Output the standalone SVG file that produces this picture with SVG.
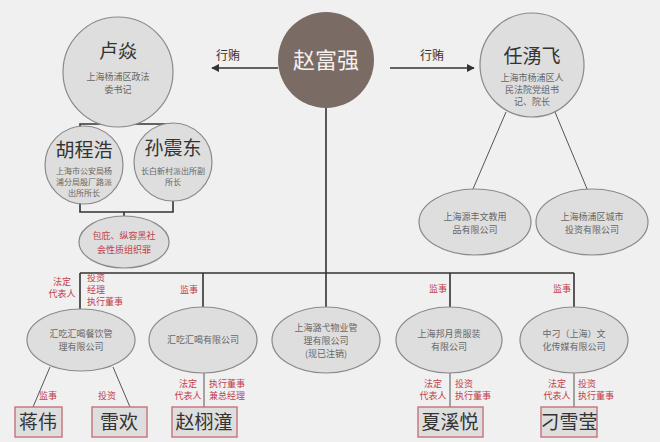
<svg xmlns="http://www.w3.org/2000/svg" width="660" height="442" viewBox="0 0 660 442">
<defs>
<style>
text{font-family:"Noto Sans CJK SC","Liberation Serif",serif;text-anchor:middle}
.c{fill:#dedede;stroke:#8a8a8a;stroke-width:1.2}
.t{font-size:19px;fill:#333}
.s{font-size:9px;fill:#666}
.x{font-size:8px;fill:#666}
.r{font-size:9px;fill:#c0404a}
.rs{font-size:9px;fill:#c0404a;text-anchor:start}
.b{fill:#dedede;stroke:#c77a80;stroke-width:1.5}
.l{stroke:#333;stroke-width:1.6;fill:none}
.ln{stroke:#555;stroke-width:1;fill:none}
</style>
<marker id="a" viewBox="0 0 10 10" refX="9" refY="5" markerWidth="5" markerHeight="5" orient="auto"><path d="M0,0L10,5L0,10z" fill="#333"/></marker>
</defs>
<rect width="660" height="442" fill="#f0f0f0"/>
<g id="connectors">
<path class="l" d="M278,68H212" marker-end="url(#a)"/>
<path class="l" d="M390,68H474" marker-end="url(#a)"/>
<path class="l" d="M124,127V124M80,134V124H173V134M80,201V212H173V201M124,212V218"/>
<path class="l" d="M326,108V273M80,273H574M80,273V310M203,273V307M326,273V307M450,273V307M574,273V307"/>
<path class="ln" d="M506,112L470,196M555,112L590,196"/>
<path class="ln" d="M50,367L33,407M113,367L130,407M204,373V407M450,373V407M574,373V407"/>
</g>
<g id="n-zhao"><circle cx="326" cy="60" r="48" fill="#7a6b64"/><text x="326" y="68" font-size="22" fill="#f4f0ee">赵富强</text></g>
<text x="228" y="60" font-size="12" fill="#333">行贿</text>
<text x="432" y="60" font-size="12" fill="#333">行贿</text>
<g id="n-lu"><circle class="c" cx="118" cy="72" r="55"/><text class="t" x="118" y="58">卢焱</text><text class="s" x="118" y="80">上海杨浦区政法</text><text class="s" x="118" y="93">委书记</text></g>
<g id="n-ren"><circle class="c" cx="532" cy="65" r="52"/><text class="t" x="532" y="63">任湧飞</text><text class="s" x="532" y="81">上海市杨浦区人</text><text class="s" x="532" y="93">民法院党组书</text><text class="s" x="532" y="105">记、院长</text></g>
<g id="n-hu"><circle class="c" cx="84" cy="165" r="39"/><text class="t" x="84" y="157">胡程浩</text><text class="x" x="84" y="174">上海市公安局杨</text><text class="x" x="84" y="185">浦分局殷厂路派</text><text class="x" x="84" y="196">出所所长</text></g>
<g id="n-sun"><circle class="c" cx="173" cy="162" r="39"/><text class="t" x="173" y="155">孙震东</text><text class="x" x="173" y="174">长白新村派出所副</text><text class="x" x="173" y="185">所长</text></g>
<g id="n-bao"><ellipse class="c" cx="124" cy="242" rx="45" ry="26"/><text class="r" x="124" y="239" font-size="10">包庇、纵容黑社</text><text class="r" x="124" y="253" font-size="10">会性质组织罪</text></g>
<g id="n-ren1"><ellipse class="c" cx="475" cy="222" rx="56" ry="33"/><text class="s" x="475" y="220">上海源丰文教用</text><text class="s" x="475" y="233">品有限公司</text></g>
<g id="n-ren2"><ellipse class="c" cx="592" cy="222" rx="56" ry="33"/><text class="s" x="592" y="220">上海杨浦区城市</text><text class="s" x="592" y="233">投资有限公司</text></g>
<g id="n-co1"><ellipse class="c" cx="81" cy="340" rx="54" ry="31"/><text class="s" x="81" y="337">汇吃汇喝餐饮管</text><text class="s" x="81" y="350">理有限公司</text></g>
<g id="n-co2"><ellipse class="c" cx="203" cy="340" rx="54" ry="33"/><text class="s" x="203" y="343">汇吃汇喝有限公司</text></g>
<g id="n-co3"><ellipse class="c" cx="326" cy="340" rx="54" ry="33"/><text class="s" x="326" y="331">上海潞弋物业管</text><text class="s" x="326" y="344">理有限公司</text><text class="s" x="326" y="357">(现已注销)</text></g>
<g id="n-co4"><ellipse class="c" cx="449" cy="340" rx="53" ry="33"/><text class="s" x="449" y="337">上海邦月贵服装</text><text class="s" x="449" y="350">有限公司</text></g>
<g id="n-co5"><ellipse class="c" cx="574" cy="340" rx="54" ry="33"/><text class="s" x="574" y="337">中刁（上海）文</text><text class="s" x="574" y="350">化传媒有限公司</text></g>
<g id="labels">
<text class="r" x="62" y="285">法定</text><text class="r" x="62" y="297">代表人</text>
<text class="rs" x="87" y="281">投资</text><text class="rs" x="87" y="293">经理</text><text class="rs" x="87" y="305">执行董事</text>
<text class="r" x="189" y="293">监事</text>
<text class="r" x="438" y="292">监事</text>
<text class="r" x="562" y="292">监事</text>
<text class="r" x="48" y="399">监事</text><text class="r" x="107" y="399">投资</text>
<text class="r" x="188" y="387">法定</text><text class="r" x="188" y="399">代表人</text>
<text class="rs" x="209" y="387">执行董事</text><text class="rs" x="209" y="399">兼总经理</text>
<text class="r" x="433" y="387">法定</text><text class="r" x="433" y="399">代表人</text>
<text class="rs" x="455" y="387">投资</text><text class="rs" x="455" y="399">执行董事</text>
<text class="r" x="557" y="387">法定</text><text class="r" x="557" y="399">代表人</text>
<text class="rs" x="578" y="387">投资</text><text class="rs" x="578" y="399">执行董事</text>
</g>
<g id="p1"><rect class="b" x="15" y="407" width="47" height="30"/><text class="t" x="38" y="429" font-size="17">蒋伟</text></g>
<g id="p2"><rect class="b" x="92" y="407" width="55" height="30"/><text class="t" x="119" y="429" font-size="17">雷欢</text></g>
<g id="p3"><rect class="b" x="172" y="407" width="65" height="30"/><text class="t" x="204" y="429" font-size="17">赵栩潼</text></g>
<g id="p4"><rect class="b" x="418" y="407" width="65" height="30"/><text class="t" x="450" y="429" font-size="17">夏溪悦</text></g>
<g id="p5"><rect class="b" x="541" y="407" width="56" height="30"/><text class="t" x="569" y="429" font-size="17">刁雪莹</text></g>
</svg>
